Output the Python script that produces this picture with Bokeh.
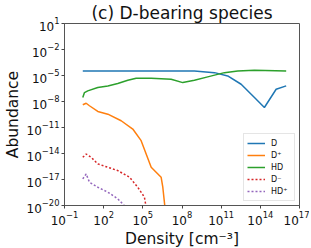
import numpy as np
from bokeh.plotting import figure
from bokeh.models import Range1d, FixedTicker, Legend, LegendItem
from bokeh.embed import file_html
from bokeh.resources import INLINE

# log10 density / log10 abundance
d_x = [0.40, 8.95, 10.49, 11.50, 12.53, 13.55, 14.31, 15.21, 15.98]
d_y = [-4.47, -4.47, -4.67, -5.05, -6.01, -7.54, -8.69, -6.59, -6.20]

dp_x = [0.40, 0.66, 0.91, 1.55, 2.32, 3.34, 4.23, 4.87, 5.64, 6.40, 6.53, 6.75]
dp_y = [-8.38, -8.20, -8.49, -9.15, -9.46, -10.22, -11.18, -12.52, -15.59, -16.74, -17.89, -21.0]

hd_x = [0.40, 0.53, 0.78, 1.55, 2.32, 3.08, 3.85, 4.49, 5.64, 7.17, 8.06, 8.95, 9.97, 11.25, 12.27, 13.55, 15.98]
hd_y = [-7.54, -6.97, -6.77, -6.39, -6.20, -5.93, -5.55, -5.32, -5.32, -5.44, -5.82, -5.55, -5.16, -4.67, -4.47, -4.40, -4.47]

dm_x = [0.40, 0.66, 1.04, 1.55, 2.32, 3.08, 3.98, 4.61, 5.12, 5.35]
dm_y = [-14.44, -14.06, -14.44, -15.20, -15.59, -15.97, -16.74, -17.89, -19.03, -21.0]

hdp_x = [0.40, 0.66, 0.91, 1.55, 2.32, 3.08, 3.90]
hdp_y = [-16.93, -16.36, -17.31, -17.89, -18.46, -19.23, -20.5]

x_ticks = [-1, 2, 5, 8, 11, 14, 17]
y_ticks = [-20, -17, -14, -11, -8, -5, -2, 1]

FONT = "DejaVu Sans"

p = figure(frame_width=235, frame_height=182, x_axis_type="log", y_axis_type="log",
           x_range=Range1d(1e-1, 1e17), y_range=Range1d(1e-20, 1e1),
           output_backend="svg", toolbar_location=None,
           title="(c) D-bearing species",
           min_border_left=52, min_border_right=10, min_border_top=13, min_border_bottom=35)
p.title.align = "center"
p.title.text_font = FONT
p.title.text_font_size = "17px"
p.title.text_font_style = "normal"
p.title.text_color = "#111111"
p.title.standoff = 1

p.xgrid.visible = False
p.ygrid.visible = False
p.outline_line_color = "#555555"
p.outline_line_width = 1

for ax in (p.xaxis, p.yaxis):
    ax.axis_line_color = "#555555"
    ax.major_tick_line_color = "#444444"
    ax.major_tick_in = 0
    ax.major_tick_out = 3
    ax.minor_tick_line_color = None
    ax.major_label_text_font = FONT
    ax.major_label_text_font_size = "12px"
    ax.major_label_text_color = "#111111"
    ax.axis_label_text_font = FONT
    ax.axis_label_text_font_size = "15.5px"
    ax.axis_label_text_font_style = "normal"
    ax.axis_label_text_color = "#111111"

p.xaxis.ticker = FixedTicker(ticks=[10.0 ** t for t in x_ticks], minor_ticks=[])
p.yaxis.ticker = FixedTicker(ticks=[10.0 ** t for t in y_ticks], minor_ticks=[])
p.xaxis.axis_label = "Density [cm⁻³]"
p.yaxis.axis_label = "Abundance"
p.xaxis.major_label_standoff = 2
p.yaxis.major_label_standoff = 2
p.xaxis.axis_label_standoff = 2
p.yaxis.axis_label_standoff = 2

def pw(a):
    return [10.0 ** v for v in a]

r1 = p.line(pw(d_x), pw(d_y), line_color="#1f77b4", line_width=1.5)
r2 = p.line(pw(dp_x), pw(dp_y), line_color="#ff7f0e", line_width=1.5)
r3 = p.line(pw(hd_x), pw(hd_y), line_color="#2ca02c", line_width=1.5)
r4 = p.line(pw(dm_x), pw(dm_y), line_color="#d62728", line_width=1.5, line_dash="2 2")
r5 = p.line(pw(hdp_x), pw(hdp_y), line_color="#9467bd", line_width=1.5, line_dash="2 2")

legend = Legend(items=[
    LegendItem(label="D", renderers=[r1]),
    LegendItem(label="D⁺", renderers=[r2]),
    LegendItem(label="HD", renderers=[r3]),
    LegendItem(label="D⁻", renderers=[r4]),
    LegendItem(label="HD⁺", renderers=[r5]),
], location="bottom_right")
legend.label_text_font = FONT
legend.label_text_font_size = "8px"
legend.label_text_color = "#111111"
legend.glyph_width = 18
legend.glyph_height = 12
legend.label_height = 12
legend.label_standoff = 6
legend.spacing = 0
legend.padding = 3
legend.margin = 4
legend.border_line_color = "#cccccc"
legend.border_line_width = 1
legend.background_fill_alpha = 0.8
p.add_layout(legend)

open("out.html", "w").write(file_html(p, INLINE))
